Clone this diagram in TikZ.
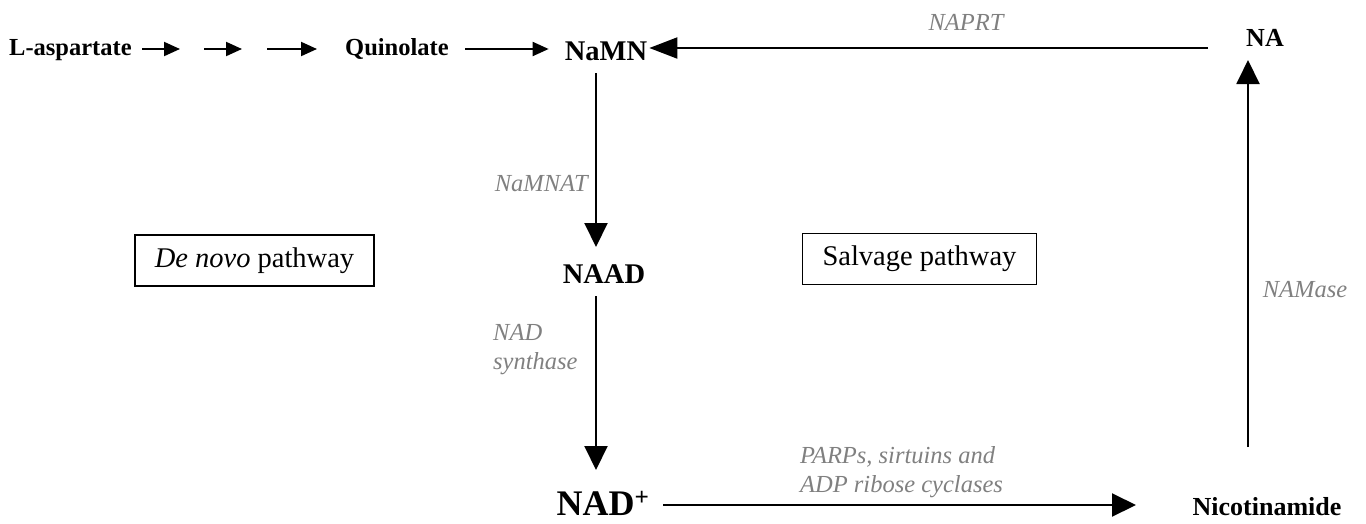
\documentclass[tikz,border=0pt]{standalone}
\usepackage{fontspec}
\setmainfont{Liberation Serif}
\usetikzlibrary{arrows.meta,positioning}
\definecolor{enzgray}{RGB}{128,128,128}
\tikzset{
  metab/.style={font=\bfseries\fontsize{24.5}{28}\selectfont, inner sep=0pt},
  bigmetab/.style={font=\bfseries\fontsize{28.5}{32}\selectfont, inner sep=0pt},
  enz/.style={font=\itshape\fontsize{24.5}{29}\selectfont, text=enzgray, inner sep=0pt, align=left},
  pathbox/.style={draw, line width=1.8pt, font=\fontsize{28.5}{32}\selectfont, minimum height=51pt, inner xsep=20pt},
  rxn/.style={line width=2pt, -{Triangle[length=24pt,width=23pt]}},
  substep/.style={line width=2pt, -{Triangle[length=16pt,width=14pt]}}
}
\begin{document}
\begin{tikzpicture}[x=1pt,y=-1pt]
\useasboundingbox (0,0) rectangle (1366,523);
\node[metab, anchor=base west] (lasp) at (9,55) {L-aspartate};
\node[metab, anchor=base west] (quin) at (345,55) {Quinolate};
\node[bigmetab, anchor=base] (namn) at (606,60) {NaMN};
\node[metab, font=\bfseries\fontsize{26}{28}\selectfont, anchor=base] (na) at (1265,46) {NA};
\node[bigmetab, anchor=base] (naad) at (604,283) {NAAD};
\node[bigmetab, font=\bfseries\fontsize{36}{38}\selectfont, anchor=base] (nad) at (603,515) {NAD\textsuperscript{+}};
\node[metab, font=\bfseries\fontsize{26}{28}\selectfont, anchor=base] (nam) at (1267,515) {Nicotinamide};
\node[pathbox] (denovo) at (254.5,260.5) {\textit{De novo} pathway};
\node[pathbox] (salvage) at (919.5,259) {Salvage pathway};
\node[enz, anchor=base] (naprt) at (966,30) {NAPRT};
\node[enz, anchor=base east] (namnat) at (588,191) {NaMNAT};
\node[enz, anchor=north west] (nadsyn) at (493,324) {NAD\\synthase};
\node[enz, anchor=north west] (parps) at (800,446) {PARPs, sirtuins and\\ADP ribose cyclases};
\node[enz] (namase) at (1305,290) {NAMase};
\coordinate (s1) at (142,49);
\coordinate (e1) at (180,49);
\coordinate (s2) at (204,49);
\coordinate (e2) at (242,49);
\coordinate (s3) at (267,49);
\coordinate (e3) at (317,49);
\coordinate (s4) at (465,49);
\coordinate (naprtstart) at (1208,48);
\coordinate (top1) at (596,73);
\coordinate (tip1) at (596,247);
\coordinate (top2) at (596,296);
\coordinate (tip2) at (596,470);
\coordinate (narrow) at (1248,447);
\coordinate (natip) at (1248,60);
\coordinate (nadout) at (663,505);
\coordinate (namtip) at (1136,505);
\draw[substep] (s1) -- (e1);
\draw[substep] (s2) -- (e2);
\draw[substep] (s3) -- (e3);
\draw[substep] (s4) -- ([xshift=-16pt]s4 -| namn.west);
\draw[rxn, -{Triangle[length=28pt,width=21pt]}] (naprtstart) -- ([xshift=2pt]naprtstart -| namn.east);
\draw[rxn] (top1) -- (tip1);
\draw[rxn] (top2) -- (tip2);
\draw[rxn] (narrow) -- (natip);
\draw[rxn] (nadout) -- (namtip);
\end{tikzpicture}
\end{document}
